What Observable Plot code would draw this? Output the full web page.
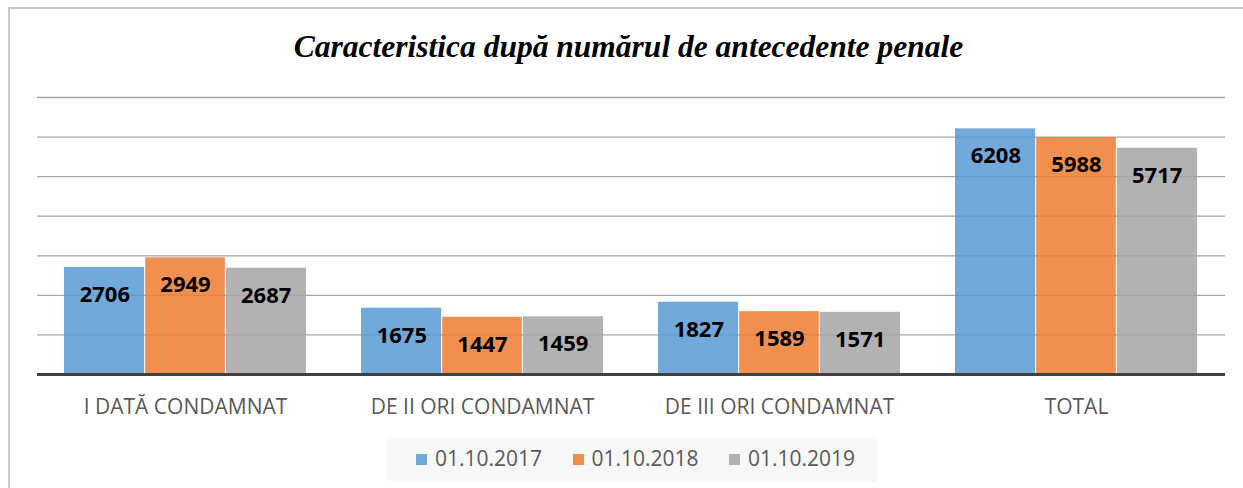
<!DOCTYPE html>
<html>
<head>
<meta charset="utf-8">
<script src="https://cdn.jsdelivr.net/npm/d3@7"></script>
<script src="https://cdn.jsdelivr.net/npm/@observablehq/plot@0.6"></script>
<style>
  html, body { margin: 0; padding: 0; background: #fff; }
  #root { position: relative; width: 1243px; height: 488px; overflow: hidden; }
  #frame { position: absolute; left: 8px; top: 7px; right: -4px; bottom: -4px;
           border-left: 2px solid #c8c8c8; border-top: 2px solid #c8c8c8; }
  #title { position: absolute; left: 10px; width: 1237px; top: 31px; text-align: center;
           font-family: "Liberation Serif", "Times New Roman", serif; font-weight: bold; font-style: italic;
           font-size: 31.5px; line-height: 31.5px; color: #000; white-space: nowrap; }
  #chart { position: absolute; left: 0; top: 80px; }
  #legend { position: absolute; left: 386px; top: 437px; width: 491px; height: 45px; background: #f8f8f8; }
  .li { position: absolute; top: 0; height: 45px; }
  .sw { position: absolute; top: 17px; width: 11px; height: 11px; }
  .lt { position: absolute; top: 11px; left: 19px; font-family: "Open Sans", sans-serif; font-size: 21px;
        line-height: 21px; color: #595959; white-space: nowrap; }
</style>
</head>
<body>
<div id="root">
  <div id="frame"></div>
  <div id="title">Caracteristica după numărul de antecedente penale</div>
  <div id="chart"></div>
  <div id="legend"></div>
</div>
<script>
const categories = ["I DATĂ CONDAMNAT", "DE II ORI CONDAMNAT", "DE III ORI CONDAMNAT", "TOTAL"];
const series = ["01.10.2017", "01.10.2018", "01.10.2019"];
const v2017 = [2706, 1675, 1827, 6208];
const v2018 = [2949, 1447, 1589, 5988];
const v2019 = [2687, 1459, 1571, 5717];
const yTicks = [1000, 2000, 3000, 4000, 5000, 6000, 7000];

const colors = ["#5B9BD5", "#ED7D31", "#A5A5A5"];
const valuesBySeries = [v2017, v2018, v2019];
const data = [];
series.forEach((s, i) => categories.forEach((c, j) => data.push({cat: c, series: s, si: i, value: valuesBySeries[i][j]})));

const W = 1243, H = 350, mL = 37, mR = 18, mT = 17, mB = 56, pad = 0.185;
const step = (W - mL - mR) / categories.length;
const bw = step * (1 - pad);
const w = bw / 3;

const marks = [
  Plot.ruleY(yTicks, {stroke: "#a6a6a6", strokeWidth: 1.3})
];
series.forEach((s, i) => {
  const d = data.filter(r => r.si === i);
  marks.push(Plot.barY(d, {
    x: "cat", y: "value", fill: "series", fillOpacity: 0.86,
    insetLeft: i * w + (i > 0 ? 0.5 : 0),
    insetRight: (2 - i) * w + (i < 2 ? 0.5 : 0)
  }));
});
marks.push(Plot.ruleY([0], {stroke: "#404040", strokeWidth: 3}));
series.forEach((s, i) => {
  const d = data.filter(r => r.si === i);
  marks.push(Plot.text(d, {
    x: "cat", y: "value", text: d => String(d.value), dx: (i - 1) * w, dy: 27.5,
    lineAnchor: "middle", fontWeight: "bold", fontSize: 22, fill: "#000",
    fontFamily: "Open Sans"
  }));
});
marks.push(Plot.axisX({tickSize: 0, tickPadding: 25, fontSize: 21, fill: "#595959", fontFamily: "Open Sans", label: null}));

const chart = Plot.plot({
  width: W, height: H,
  marginLeft: mL, marginRight: mR, marginTop: mT, marginBottom: mB,
  style: {fontFamily: "Open Sans", background: "transparent", overflow: "visible"},
  x: {domain: categories, paddingInner: pad, paddingOuter: pad / 2, axis: null},
  y: {domain: [0, 7000], axis: null},
  color: {domain: series, range: colors},
  marks
});
document.getElementById("chart").appendChild(chart);

const legend = document.getElementById("legend");
series.forEach((s, i) => {
  const item = document.createElement("div");
  item.className = "li";
  item.style.left = (30 + i * 156.5) + "px";
  const sw = document.createElement("div");
  sw.className = "sw";
  sw.style.background = colors[i];
  sw.style.opacity = 0.86;
  const t = document.createElement("div");
  t.className = "lt";
  t.textContent = s;
  item.appendChild(sw);
  item.appendChild(t);
  legend.appendChild(item);
});
</script>
</body>
</html>
